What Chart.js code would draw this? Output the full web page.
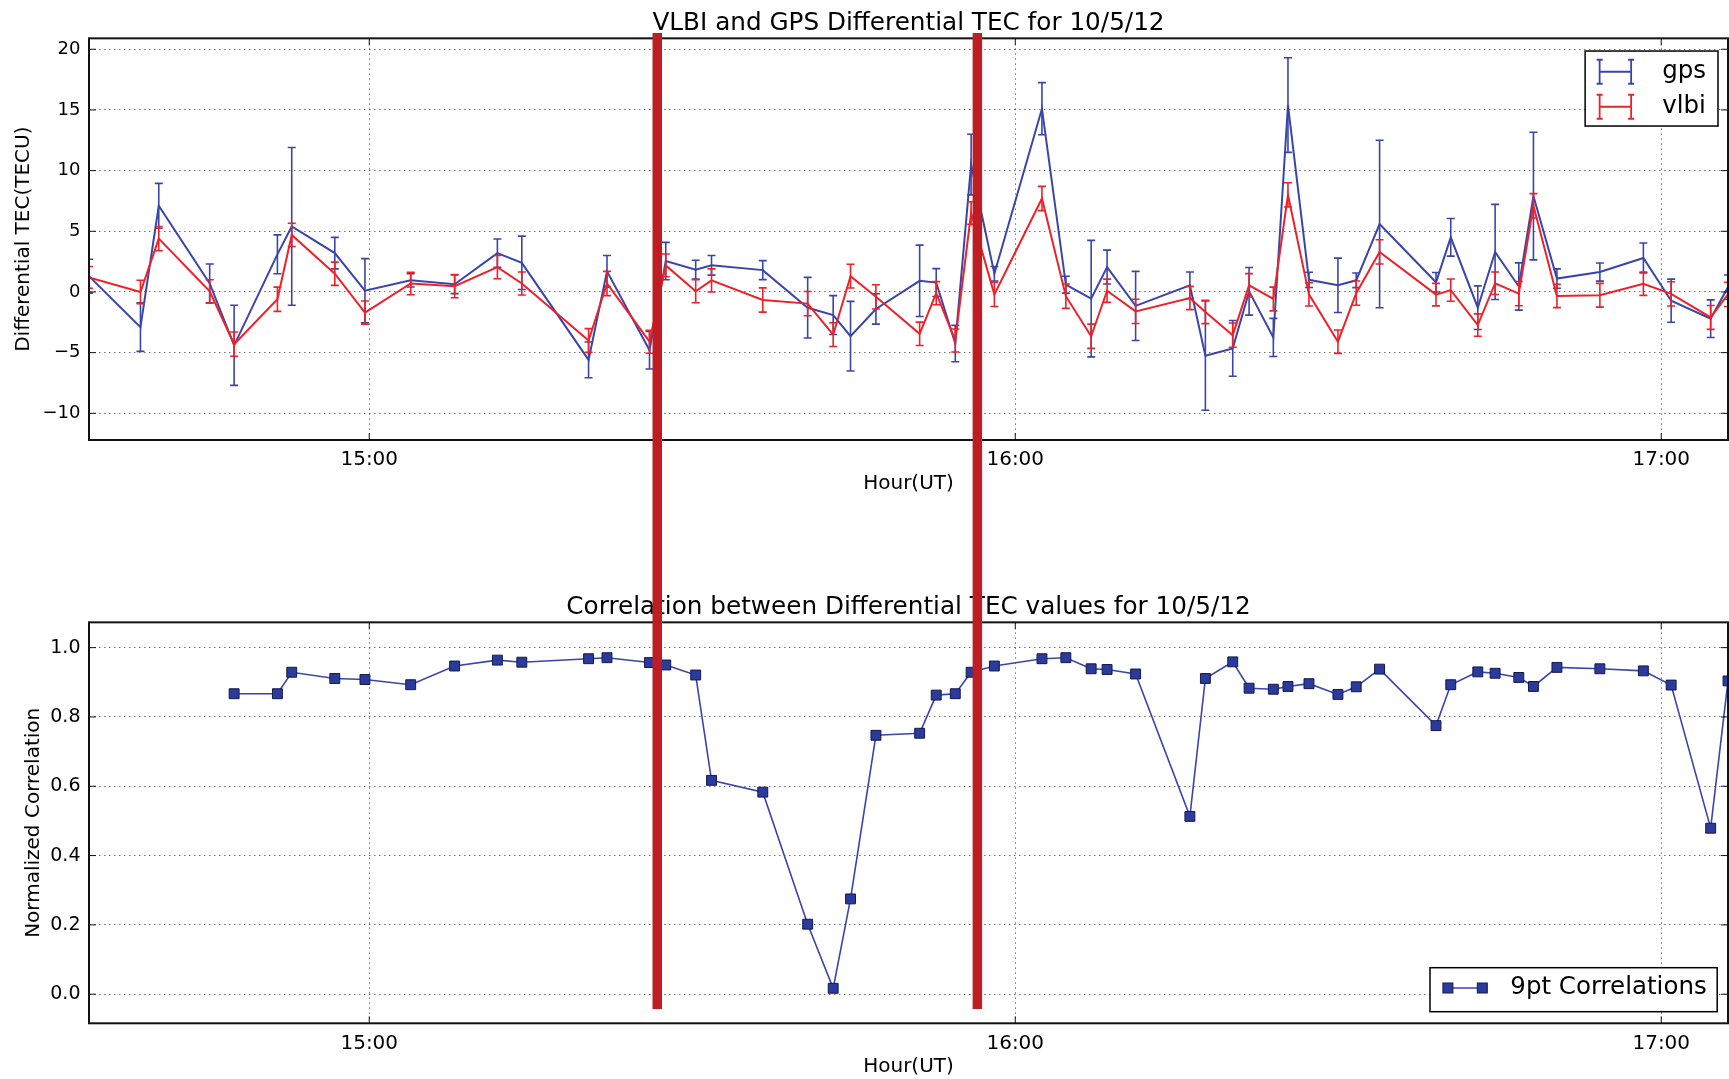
<!DOCTYPE html>
<html>
<head>
<meta charset="utf-8">
<script src="https://cdn.jsdelivr.net/npm/chart.js@4.4.1/dist/chart.umd.min.js"></script>
<style>
  html, body { margin: 0; padding: 0; background: #fff; }
  #wrap { position: relative; width: 1729px; height: 1079px; overflow: hidden; }
  #wrap canvas { position: absolute; left: 0; }
  #tec { top: 0; width: 1729px; height: 520px; }
  #corr { top: 520px; width: 1729px; height: 559px; }
</style>
</head>
<body>
<div id="wrap">
  <canvas id="tec" width="1729" height="520"></canvas>
  <canvas id="corr" width="1729" height="559"></canvas>
</div>
<script>
// scan times, minutes after 14:00 UT
var times = [
  33.97, 38.75, 40.45, 45.18, 47.45, 51.47, 52.8, 56.8, 59.6, 63.85,
  67.93, 71.9, 74.17, 80.37, 82.08, 86.03, 87.54, 90.32, 91.79, 96.55,
  100.72, 103.09, 104.7, 107.06, 111.12, 112.66, 114.43, 115.9, 118.06, 122.48,
  124.7, 127.05, 128.53, 131.18, 136.22, 137.66, 140.2, 141.72, 143.97, 145.33,
  147.28, 149.97, 151.67, 153.84, 159.08, 160.45, 162.96, 164.57, 166.77, 168.13,
  170.31, 174.3, 178.34, 180.92, 184.59, 186.2
];
var gpsTec = [
  1.3, -2.9, 7.1, 0.7, -4.4, 3.1, 5.4, 3.2, 0.1, 0.96,
  0.63, 3.2, 2.4, -5.6, 1.7, -4.8, 2.55, 1.84, 2.2, 1.8,
  -1.3, -1.9, -3.65, -1.4, 0.92, 0.77, -4.25, 10.5, 1.5, 15.1,
  0.6, -0.55, 2.05, -1.15, 0.55, -5.25, -4.65, 0.05, -3.75, 15.4,
  1.0, 0.55, 0.96, 5.6, 0.8, 4.5, -1.3, 3.3, 0.45, 7.9,
  1.1, 1.64, 2.8, -0.72, -2.2, 0.4
];
var gpsErr = [
  1.4, 2.0, 1.85, 1.6, 3.3, 1.6, 6.5, 1.3, 2.65, 0.55,
  0.77, 1.17, 2.2, 1.47, 1.3, 1.55, 1.54, 0.77, 0.81, 0.78,
  2.5, 1.6, 2.87, 1.25, 2.94, 1.15, 1.5, 2.5, 0.6, 2.15,
  0.7, 4.8, 1.4, 2.85, 1.1, 4.5, 2.3, 1.96, 1.57, 3.9,
  0.63, 2.24, 0.6, 6.9, 0.8, 1.55, 1.8, 3.92, 1.95, 5.26,
  0.8, 0.75, 1.23, 1.78, 1.55, 1.0
];
var vlbiTec = [
  1.2, 0.0, 4.4, 0.05, -4.3, -0.6, 4.7, 1.5, -1.7, 0.7,
  0.48, 2.05, 0.7, -4.0, 0.7, -4.1, 2.19, 0.06, 0.95, -0.66,
  -0.96, -3.52, 1.3, -0.4, -3.45, -0.1, -4.0, 6.5, -0.2, 7.7,
  -0.35, -3.65, 0.1, -1.6, -0.5, -1.65, -3.56, 0.55, -0.58, 8.0,
  -0.2, -4.1, -0.1, 3.3, -0.22, 0.15, -2.73, 0.72, -0.14, 7.1,
  -0.33, -0.27, 0.68, -0.16, -2.1, -0.2
];
var vlbiErr = [
  0.9, 0.96, 1.0, 0.96, 1.0, 1.0, 0.96, 0.96, 0.96, 0.93,
  0.96, 0.96, 0.95, 0.98, 1.0, 0.95, 0.94, 0.95, 0.95, 1.0,
  1.0, 0.98, 0.98, 1.0, 0.96, 0.95, 0.95, 0.93, 1.0, 1.0,
  1.0, 1.0, 0.96, 1.0, 0.96, 0.96, 1.0, 0.96, 0.98, 1.0,
  0.96, 0.96, 1.0, 1.0, 0.93, 0.92, 0.92, 0.93, 1.0, 1.0,
  0.96, 0.98, 0.96, 1.0, 0.98, 1.0
];
// 9pt correlations, first one sits on the 5th scan
var corr = [
  0.867, 0.867, 0.929, 0.911, 0.908, 0.893, 0.947, 0.964, 0.958, 0.968,
  0.971, 0.957, 0.95, 0.921, 0.617, 0.583, 0.202, 0.017, 0.275, 0.747,
  0.753, 0.863, 0.867, 0.929, 0.947, 0.968, 0.971, 0.939, 0.937, 0.924,
  0.513, 0.911, 0.959, 0.883, 0.88, 0.888, 0.896, 0.865, 0.887, 0.938,
  0.775, 0.893, 0.93, 0.926, 0.914, 0.888, 0.943, 0.939, 0.933, 0.892,
  0.479, 0.904
];
var corrStart = 4;
var hourTicks = [60, 120, 180];
var hourLabels = ['15:00', '16:00', '17:00'];
var tecTicks = [-10, -5, 0, 5, 10, 15, 20];
var corrTicks = [0, 0.2, 0.4, 0.6, 0.8, 1.0];
// the two red marker bars (minutes after 14:00)
var markTimes = [86.75, 116.48];

var FONT = 'DejaVu Sans';
var BLUE = '#3a45aa';
var RED = '#ee2129';
var GRID = 'rgba(0,0,0,0.55)';

function pts(xs, ys) {
  return ys.map(function(y, i){ return {x: xs[i], y: y}; });
}

// error bars, drawn right after their own line
var errorBars = {
  id: 'errorBars',
  afterDatasetDraw: function(chart, args) {
    var ds = chart.data.datasets[args.index];
    if (!ds.errors) return;
    var ctx = chart.ctx, a = chart.chartArea;
    var xs = chart.scales.x, ys = chart.scales.y;
    ctx.save();
    ctx.beginPath();
    ctx.rect(a.left, a.top, a.right - a.left, a.bottom - a.top);
    ctx.clip();
    ctx.strokeStyle = ds.borderColor;
    ctx.lineWidth = 1.6;
    ds.data.forEach(function(p, i) {
      var x = xs.getPixelForValue(p.x);
      var y0 = ys.getPixelForValue(p.y - ds.errors[i]);
      var y1 = ys.getPixelForValue(p.y + ds.errors[i]);
      ctx.beginPath();
      ctx.moveTo(x, y0); ctx.lineTo(x, y1);
      ctx.moveTo(x - 4, y0); ctx.lineTo(x + 4, y0);
      ctx.moveTo(x - 4, y1); ctx.lineTo(x + 4, y1);
      ctx.stroke();
    });
    ctx.restore();
  }
};

// box round the plot plus inward ticks
var frame = {
  id: 'frame',
  afterDatasetsDraw: function(chart) {
    var ctx = chart.ctx, a = chart.chartArea;
    ctx.save();
    ctx.strokeStyle = '#111';
    ctx.lineWidth = 1;
    ctx.beginPath();
    chart.scales.x.ticks.forEach(function(t) {
      var x = chart.scales.x.getPixelForValue(t.value);
      ctx.moveTo(x, a.top); ctx.lineTo(x, a.top + 7);
      ctx.moveTo(x, a.bottom); ctx.lineTo(x, a.bottom - 7);
    });
    chart.scales.y.ticks.forEach(function(t) {
      var y = chart.scales.y.getPixelForValue(t.value);
      ctx.moveTo(a.left, y); ctx.lineTo(a.left + 7, y);
      ctx.moveTo(a.right, y); ctx.lineTo(a.right - 7, y);
    });
    ctx.stroke();
    ctx.lineWidth = 2;
    ctx.strokeRect(a.left, a.top, a.right - a.left, a.bottom - a.top);
    ctx.restore();
  }
};

// matplotlib style legend box
var boxLegend = {
  id: 'boxLegend',
  afterDatasetsDraw: function(chart, args, o) {
    var ctx = chart.ctx, a = chart.chartArea;
    ctx.save();
    ctx.font = '24.5px "' + FONT + '"';
    var tw = 0;
    o.items.forEach(function(it){ tw = Math.max(tw, ctx.measureText(it.label).width); });
    var w = o.padL + o.handle + o.gap + tw + o.padR;
    var h = o.padT + o.rowH * o.items.length + o.padB;
    var x = a.right - o.right - w;
    var y = o.top != null ? a.top + o.top : a.bottom - o.bottom - h;
    ctx.fillStyle = '#fff';
    ctx.fillRect(x, y, w, h);
    ctx.strokeStyle = '#000';
    ctx.lineWidth = 1.5;
    ctx.strokeRect(x, y, w, h);
    o.items.forEach(function(it, i) {
      var cy = y + o.padT + o.rowH * (i + 0.5);
      var x0 = x + o.padL, x1 = x0 + o.handle;
      it.symbol(ctx, x0, x1, cy);
      ctx.fillStyle = '#000';
      ctx.textAlign = 'left';
      ctx.textBaseline = 'middle';
      ctx.fillText(it.label, x1 + o.gap, cy);
    });
    ctx.restore();
  }
};

// red marker bars laid over the figure
var marks = {
  id: 'marks',
  afterDraw: function(chart, args, o) {
    var ctx = chart.ctx;
    ctx.save();
    ctx.fillStyle = '#be1d24';
    markTimes.forEach(function(t) {
      var x = chart.scales.x.getPixelForValue(t);
      ctx.fillRect(x - 4.75, o.top, 9.5, o.bottom - o.top);
    });
    ctx.restore();
  }
};

function errSymbol(color) {
  return function(ctx, x0, x1, cy) {
    ctx.strokeStyle = color;
    ctx.lineWidth = 1.8;
    ctx.beginPath();
    ctx.moveTo(x0, cy); ctx.lineTo(x1, cy);
    [x0, x1].forEach(function(x) {
      ctx.moveTo(x, cy - 12); ctx.lineTo(x, cy + 12);
      ctx.moveTo(x - 3, cy - 12); ctx.lineTo(x + 3, cy - 12);
      ctx.moveTo(x - 3, cy + 12); ctx.lineTo(x + 3, cy + 12);
    });
    ctx.stroke();
  };
}

function squareSymbol(ctx, x0, x1, cy) {
  ctx.strokeStyle = BLUE;
  ctx.lineWidth = 1.5;
  ctx.beginPath();
  ctx.moveTo(x0, cy); ctx.lineTo(x1, cy);
  ctx.stroke();
  [x0, x1].forEach(function(x) {
    ctx.fillStyle = '#2a3b9c';
    ctx.fillRect(x - 5, cy - 5, 10, 10);
    ctx.strokeStyle = '#141a4c';
    ctx.lineWidth = 1;
    ctx.strokeRect(x - 5, cy - 5, 10, 10);
  });
}

function xAxis(height, tickPad, titlePad) {
  return {
    type: 'linear',
    min: times[0],
    max: times[times.length - 1],
    afterBuildTicks: function(s){ s.ticks = hourTicks.map(function(v){ return {value: v}; }); },
    afterFit: function(s){ s.height = height; },
    ticks: {
      autoSkip: false, maxRotation: 0, padding: tickPad, color: '#000',
      font: {family: FONT, size: 20},
      callback: function(v, i){ return hourLabels[i]; }
    },
    grid: { color: GRID, lineWidth: 1, drawTicks: false },
    border: { display: false, dash: [1.5, 3.5] },
    title: { display: true, text: 'Hour(UT)', color: '#000', font: {family: FONT, size: 20}, padding: {top: 0, bottom: titlePad} }
  };
}

function yAxis(min, max, tickList, fmt, size, titleText, titlePad) {
  return {
    type: 'linear',
    min: min,
    max: max,
    afterBuildTicks: function(s){ s.ticks = tickList.map(function(v){ return {value: v}; }); },
    afterFit: function(s){ s.width = 89; },
    ticks: { padding: 8.5, color: '#000', font: {family: FONT, size: size}, callback: fmt },
    grid: { color: GRID, lineWidth: 1, drawTicks: false },
    border: { display: false, dash: [1.5, 3.5] },
    title: { display: true, text: titleText, color: '#000', font: {family: FONT, size: 20}, padding: {top: titlePad, bottom: 0} }
  };
}

var tecChart = new Chart(document.getElementById('tec').getContext('2d'), {
  type: 'line',
  data: {
    datasets: [{
      label: 'gps',
      data: pts(times, gpsTec),
      errors: gpsErr,
      borderColor: BLUE,
      borderWidth: 2,
      pointRadius: 0,
      tension: 0,
      fill: false,
      order: 2
    }, {
      label: 'vlbi',
      data: pts(times, vlbiTec),
      errors: vlbiErr,
      borderColor: RED,
      borderWidth: 2,
      pointRadius: 0,
      tension: 0,
      fill: false,
      order: 1
    }]
  },
  plugins: [errorBars, frame, boxLegend, marks],
  options: {
    responsive: false,
    animation: false,
    events: [],
    layout: { autoPadding: false, padding: { left: 0, right: 1, top: 0, bottom: 0 } },
    plugins: {
      legend: { display: false },
      tooltip: { enabled: false },
      title: {
        display: true,
        fullSize: false,
        text: 'VLBI and GPS Differential TEC for 10/5/12',
        color: '#000',
        font: { family: FONT, size: 24.7, weight: 'normal', lineHeight: 1.2 },
        padding: { top: 8.7, bottom: 0 }
      },
      boxLegend: {
        right: 10, top: 12.7, padL: 14.5, handle: 31.5, gap: 31, padR: 12, padT: 3.2, padB: 1.8, rowH: 35,
        items: [
          { label: 'gps', symbol: errSymbol(BLUE) },
          { label: 'vlbi', symbol: errSymbol(RED) }
        ]
      },
      marks: { top: 33, bottom: 520 }
    },
    scales: {
      x: xAxis(80, 7.5, 24.5),
      y: yAxis(-12.2, 20.9, tecTicks, function(v){ return String(v).replace('-', '\u2212'); }, 18, 'Differential TEC(TECU)', 12)
    }
  }
});

var corrChart = new Chart(document.getElementById('corr').getContext('2d'), {
  type: 'line',
  data: {
    datasets: [{
      label: '9pt Correlations',
      data: pts(times.slice(corrStart), corr),
      borderColor: BLUE,
      borderWidth: 1.6,
      pointStyle: 'rect',
      pointRadius: 7,
      pointBackgroundColor: '#2a3b9c',
      pointBorderColor: '#141a4c',
      pointBorderWidth: 1,
      tension: 0,
      fill: false
    }]
  },
  plugins: [frame, boxLegend, marks],
  options: {
    responsive: false,
    animation: false,
    events: [],
    layout: { autoPadding: false, padding: { left: 0, right: 1, top: 0, bottom: 0 } },
    plugins: {
      legend: { display: false },
      tooltip: { enabled: false },
      title: {
        display: true,
        fullSize: false,
        text: 'Correlation between Differential TEC values for 10/5/12',
        color: '#000',
        font: { family: FONT, size: 24.7, weight: 'normal', lineHeight: 1.2 },
        padding: { top: 72.7, bottom: 0 }
      },
      boxLegend: {
        right: 10.8, bottom: 11.6, padL: 17.9, handle: 34.4, gap: 28, padR: 10.5, padT: 2.3, padB: 5.7, rowH: 36,
        items: [
          { label: '9pt Correlations', symbol: squareSymbol }
        ]
      },
      marks: { top: 0, bottom: 489 }
    },
    scales: {
      x: xAxis(55.7, 8.5, 0),
      y: yAxis(-0.084, 1.073, corrTicks, function(v){ return v.toFixed(1); }, 19, 'Normalized Correlation', 22)
    }
  }
});
</script>
</body>
</html>
